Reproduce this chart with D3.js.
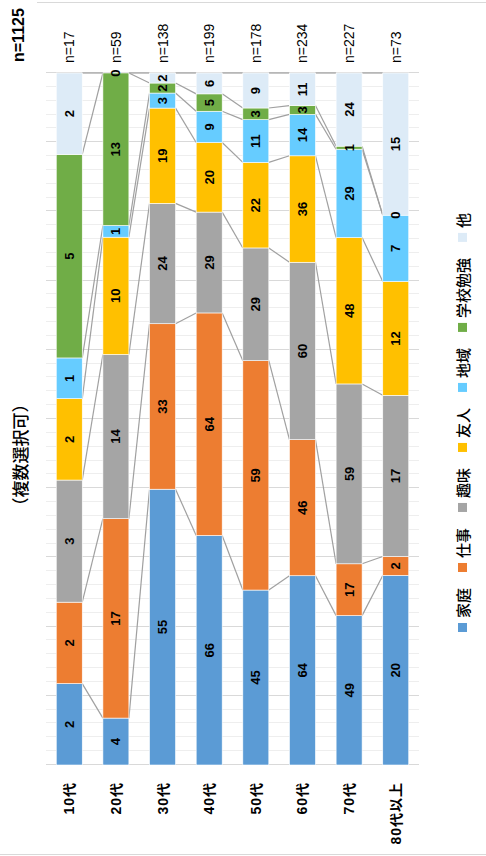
<!DOCTYPE html>
<html><head><meta charset="utf-8">
<script src="https://cdn.jsdelivr.net/npm/d3@7"></script>
<style>body{margin:0;background:#fff} svg{display:block}</style>
</head><body>
<svg id="c" width="486" height="856"></svg>
<script>
const categories = ["10代","20代","30代","40代","50代","60代","70代","80代以上"];
const totals = [17,59,138,199,178,234,227,73];
const grandTotal = 1125;
const seriesNames = ["家庭","仕事","趣味","友人","地域","学校勉強","他"];
const kazoku  = [2,4,55,66,45,64,49,20];
const shigoto = [2,17,33,64,59,46,17,2];
const shumi   = [3,14,24,29,29,60,59,17];
const yujin   = [2,10,19,20,22,36,48,12];
const chiiki  = [1,1,3,9,11,14,29,7];
const gakko   = [5,13,2,5,3,3,1,0];
const hoka    = [2,0,2,6,9,11,24,15];
const colors = ["#5B9BD5","#ED7D31","#A5A5A5","#FFC000","#66CCFF","#70AD47","#DDEBF7"];

const seriesValues = [kazoku, shigoto, shumi, yujin, chiiki, gakko, hoka];
const rows = categories.map((c,i) => {
  const r = {cat:c};
  seriesNames.forEach((s,k) => r[s] = seriesValues[k][i]);
  return r;
});
const stack = d3.stack().keys(seriesNames).offset(d3.stackOffsetExpand)(rows);

const FONT = "'Liberation Sans','Noto Sans CJK JP',sans-serif";
const svg = d3.select("#c");
// chart border
svg.append("line").attr("x1",37).attr("x2",486).attr("y1",2.5).attr("y2",2.5).attr("stroke","#d9d9d9");
svg.append("line").attr("x1",0).attr("x2",486).attr("y1",854.5).attr("y2",854.5).attr("stroke","#d9d9d9");

// inner coordinate system: horizontal bar chart (856 wide x 486 tall), rotated -90deg
const g = svg.append("g").attr("transform","translate(0,856) rotate(-90)");
const x = d3.scaleLinear().domain([0,1]).range([91,783]);
const y = d3.scaleBand().domain(categories).range([46,419]).paddingInner(0.443).paddingOuter(0.22);
const bw = y.bandwidth();

// gridlines
const ticks = d3.range(0,51).map(i => i/50);
g.append("g").selectAll("line").data(ticks).join("line")
  .attr("x1",d=>Math.round(x(d))+0.5).attr("x2",d=>Math.round(x(d))+0.5)
  .attr("y1",46).attr("y2",419)
  .attr("stroke",(d,i)=> (i%5===0) ? "#d9d9d9" : "#eeeeee")
  .attr("stroke-width",1);

// series lines
const sl = g.append("g");
stack.forEach(layer => {
  for (let j=0;j<categories.length-1;j++){
    sl.append("line")
      .attr("x1", x(layer[j][1])).attr("y1", y(categories[j])+bw)
      .attr("x2", x(layer[j+1][1])).attr("y2", y(categories[j+1]))
      .attr("stroke","#a0a0a0").attr("stroke-width",1.2);
  }
});

// bars
const layers = g.append("g").selectAll("g").data(stack).join("g")
  .attr("fill",(d,i)=>colors[i]);
layers.selectAll("rect").data(d=>d).join("rect")
  .attr("x",d=>x(d[0])).attr("width",d=>Math.max(0,x(d[1])-x(d[0])))
  .attr("y",d=>y(d.data.cat)).attr("height",bw)
  .attr("stroke","#ffffff").attr("stroke-width",0.6);

// value labels
const lab = g.append("g");
stack.forEach((layer,k) => {
  layer.forEach(d => {
    lab.append("text")
      .attr("x",(x(d[0])+x(d[1]))/2).attr("y",y(d.data.cat)+bw/2)
      .attr("text-anchor","middle").attr("dominant-baseline","central")
      .attr("font-family",FONT).attr("font-size",13).attr("font-weight","bold")
      .attr("fill","#000").text(d.data[layer.key]);
  });
});

// category labels
g.append("g").selectAll("text").data(categories).join("text")
  .attr("x",74).attr("y",d=>y(d)+bw/2)
  .attr("text-anchor","end").attr("dominant-baseline","central")
  .attr("font-family",FONT).attr("font-size",14).attr("font-weight","bold")
  .attr("letter-spacing",1)
  .attr("fill","#000").text(d=>d);

// n labels
g.append("g").selectAll("text").data(categories).join("text")
  .attr("x",793).attr("y",(d)=>y(d)+bw/2)
  .attr("text-anchor","start").attr("dominant-baseline","central")
  .attr("font-family",FONT).attr("font-size",14)
  .attr("fill","#000").text((d,i)=>"n="+totals[i]);

// overall n
g.append("text").attr("x",794).attr("y",18)
  .attr("dominant-baseline","central")
  .attr("font-family",FONT).attr("font-size",16).attr("font-weight","bold")
  .text("n="+grandTotal);

// (複数選択可)
g.append("text").attr("x",401).attr("y",19)
  .attr("text-anchor","middle").attr("dominant-baseline","central")
  .attr("font-family","'Noto Sans CJK JP',sans-serif").attr("font-size",17).attr("font-weight",500)
  .text("（複数選択可）");

// legend
const leg = g.append("g");
let lx = 224;
seriesNames.forEach((s,k) => {
  leg.append("rect").attr("x",lx).attr("y",458).attr("width",9).attr("height",9).attr("fill",colors[k]);
  const t = leg.append("text").attr("x",lx+14).attr("y",462.5)
    .attr("dominant-baseline","central")
    .attr("font-family","'Noto Sans CJK JP',sans-serif").attr("font-size",15).attr("font-weight",500)
    .attr("fill","#000").text(s);
  lx += 14 + t.node().getComputedTextLength() + 16;
});
</script>
</body></html>
